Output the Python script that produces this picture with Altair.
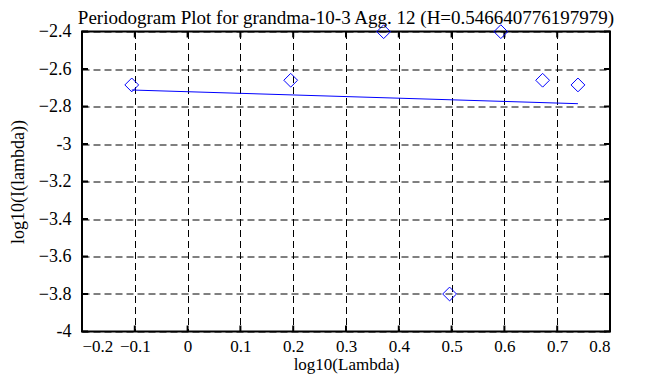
import altair as alt
import pandas as pd

# Data
log_lambda = [-0.1058, 0.1953, 0.3713, 0.4962, 0.5932, 0.6724, 0.7393]
log_I = [-2.685, -2.660, -2.401, -3.800, -2.401, -2.660, -2.685]
fit_x = [-0.1058, 0.7393]
fit_y = [-2.712, -2.785]
x_ticks = [-0.2, -0.1, 0, 0.1, 0.2, 0.3, 0.4, 0.5, 0.6, 0.7, 0.8]
y_ticks = [-4, -3.8, -3.6, -3.4, -3.2, -3, -2.8, -2.6, -2.4]

W, H = 528, 300
FONT = "Liberation Serif"

pts = pd.DataFrame({"x": log_lambda, "y": log_I})
fit = pd.DataFrame({"x": fit_x, "y": fit_y})
xt = pd.DataFrame({"v": x_ticks})
yt = pd.DataFrame({"v": y_ticks})

xscale = alt.Scale(domain=[-0.2, 0.8], nice=False, zero=False)
yscale = alt.Scale(domain=[-4, -2.4], nice=False, zero=False)

xaxis = alt.Axis(values=x_ticks, title="log10(Lambda)", grid=True, gridDash=[7, 4],
                 gridColor="black", gridOpacity=1, gridWidth=1, domain=False, ticks=False,
                 labelPadding=7, labelOverlap=False, titlePadding=2,
                 labelFontSize=17, titleFontSize=17,
                 labelExpr="datum.value == 0 ? '0' : format(datum.value, '.1f')")
yaxis = alt.Axis(values=y_ticks, title="log10(I(lambda))", grid=True, gridDash=[7, 4],
                 gridColor="black", gridOpacity=1, gridWidth=1, domain=False, ticks=False,
                 labelPadding=11, labelOverlap=False, titlePadding=11,
                 labelExpr="datum.value == -3 ? '-3' : datum.value == -4 ? '-4' : format(datum.value, '.1f')")

X = lambda f: alt.X(f, scale=xscale, axis=xaxis)
Y = lambda f: alt.Y(f, scale=yscale, axis=yaxis)

points = alt.Chart(pts).mark_point(shape="diamond", filled=False, color="#0000ff",
                                   size=190, strokeWidth=1, opacity=1).encode(
    x=X("x:Q"), y=Y("y:Q"))

line = alt.Chart(fit).mark_line(color="#0000ff", strokeWidth=1).encode(
    x=X("x:Q"), y=Y("y:Q"))

tick_style = dict(color="black", strokeWidth=2)
bt = alt.Chart(xt).mark_rule(**tick_style).encode(
    x=X("v:Q"), y=alt.value(H), y2=alt.value(H - 6))
tt = alt.Chart(xt).mark_rule(**tick_style).encode(
    x=X("v:Q"), y=alt.value(0), y2=alt.value(6))
lt = alt.Chart(yt).mark_rule(**tick_style).encode(
    y=Y("v:Q"), x=alt.value(0), x2=alt.value(6))
rt = alt.Chart(yt).mark_rule(**tick_style).encode(
    y=Y("v:Q"), x=alt.value(W), x2=alt.value(W - 6))

chart = alt.layer(bt, tt, lt, rt, line, points).properties(
    width=W, height=H,
    autosize=alt.AutoSizeParams(type="none"),
    padding={"left": 74, "top": 23.5, "right": 50, "bottom": 47},
    title=alt.Title("Periodogram Plot for grandma-10-3 Agg. 12 (H=0.546640776197979)",
                    font=FONT, fontSize=19, fontWeight="normal", color="black",
                    anchor="middle", offset=-5),
).configure_view(stroke="black", strokeWidth=2).configure_axis(
    labelFont=FONT, labelFontSize=18, labelColor="black",
    titleFont=FONT, titleFontSize=18, titleColor="black", titleFontWeight="normal",
)

chart.save("out.html", embed_options={"renderer": "svg", "actions": False})
